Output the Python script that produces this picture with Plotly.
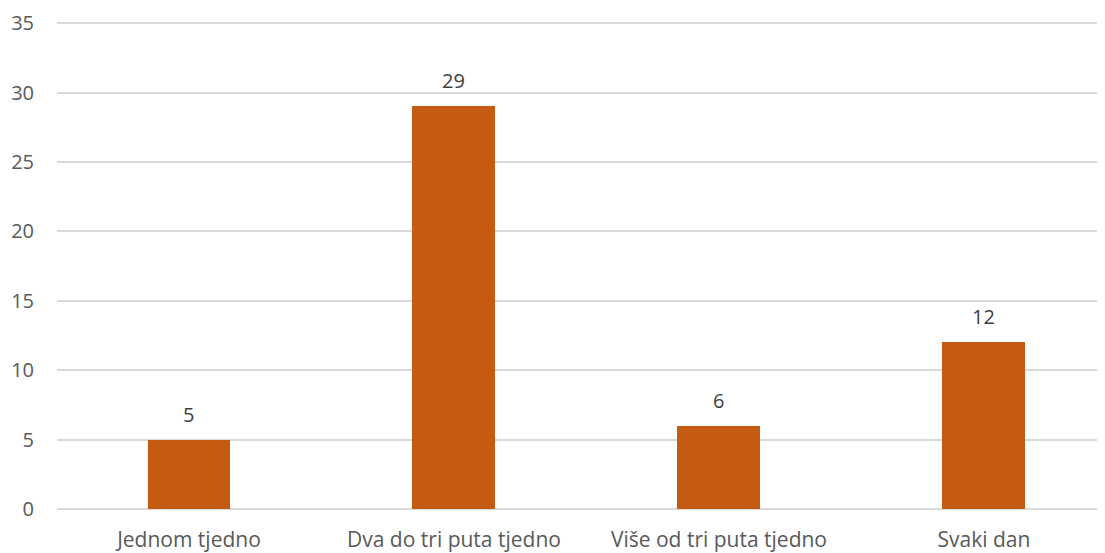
import plotly.graph_objects as go

categories = ["Jednom tjedno", "Dva do tri puta tjedno", "Više od tri puta tjedno", "Svaki dan"]
values = [5, 29, 6, 12]
y_ticks = [0, 5, 10, 15, 20, 25, 30, 35]

FONT = "Open Sans"

fig = go.Figure()
fig.add_trace(go.Bar(
    x=list(range(len(categories))),
    y=values,
    width=0.313,
    marker=dict(color="#C55A11", line=dict(width=0)),
    hoverinfo="skip",
))

for i, v in enumerate(values):
    fig.add_annotation(
        x=i, y=v, text=str(v), showarrow=False,
        yanchor="bottom", yshift=10,
        font=dict(family=FONT, size=20, color="#404040"),
    )

fig.update_layout(
    width=1105, height=553,
    margin=dict(l=49, r=0, t=11, b=52),
    paper_bgcolor="white", plot_bgcolor="white",
    showlegend=False,
    bargap=0,
)
fig.update_xaxes(
    range=[-0.498, 3.487],
    tickmode="array",
    tickvals=list(range(len(categories))),
    ticktext=categories,
    showgrid=False, zeroline=False, showline=False,
    ticks="", ticklabelstandoff=16,
    tickfont=dict(family=FONT, size=21, color="#595959"),
)
fig.update_yaxes(
    range=[0, 35.3],
    tickmode="array", tickvals=y_ticks,
    showgrid=True, gridcolor="#D9D9D9", gridwidth=1.5,
    zeroline=True, zerolinecolor="#D9D9D9", zerolinewidth=1.5,
    showline=False, ticks="", ticklabelstandoff=22,
    tickfont=dict(family=FONT, size=20, color="#595959"),
)

fig.write_html("out.html")
